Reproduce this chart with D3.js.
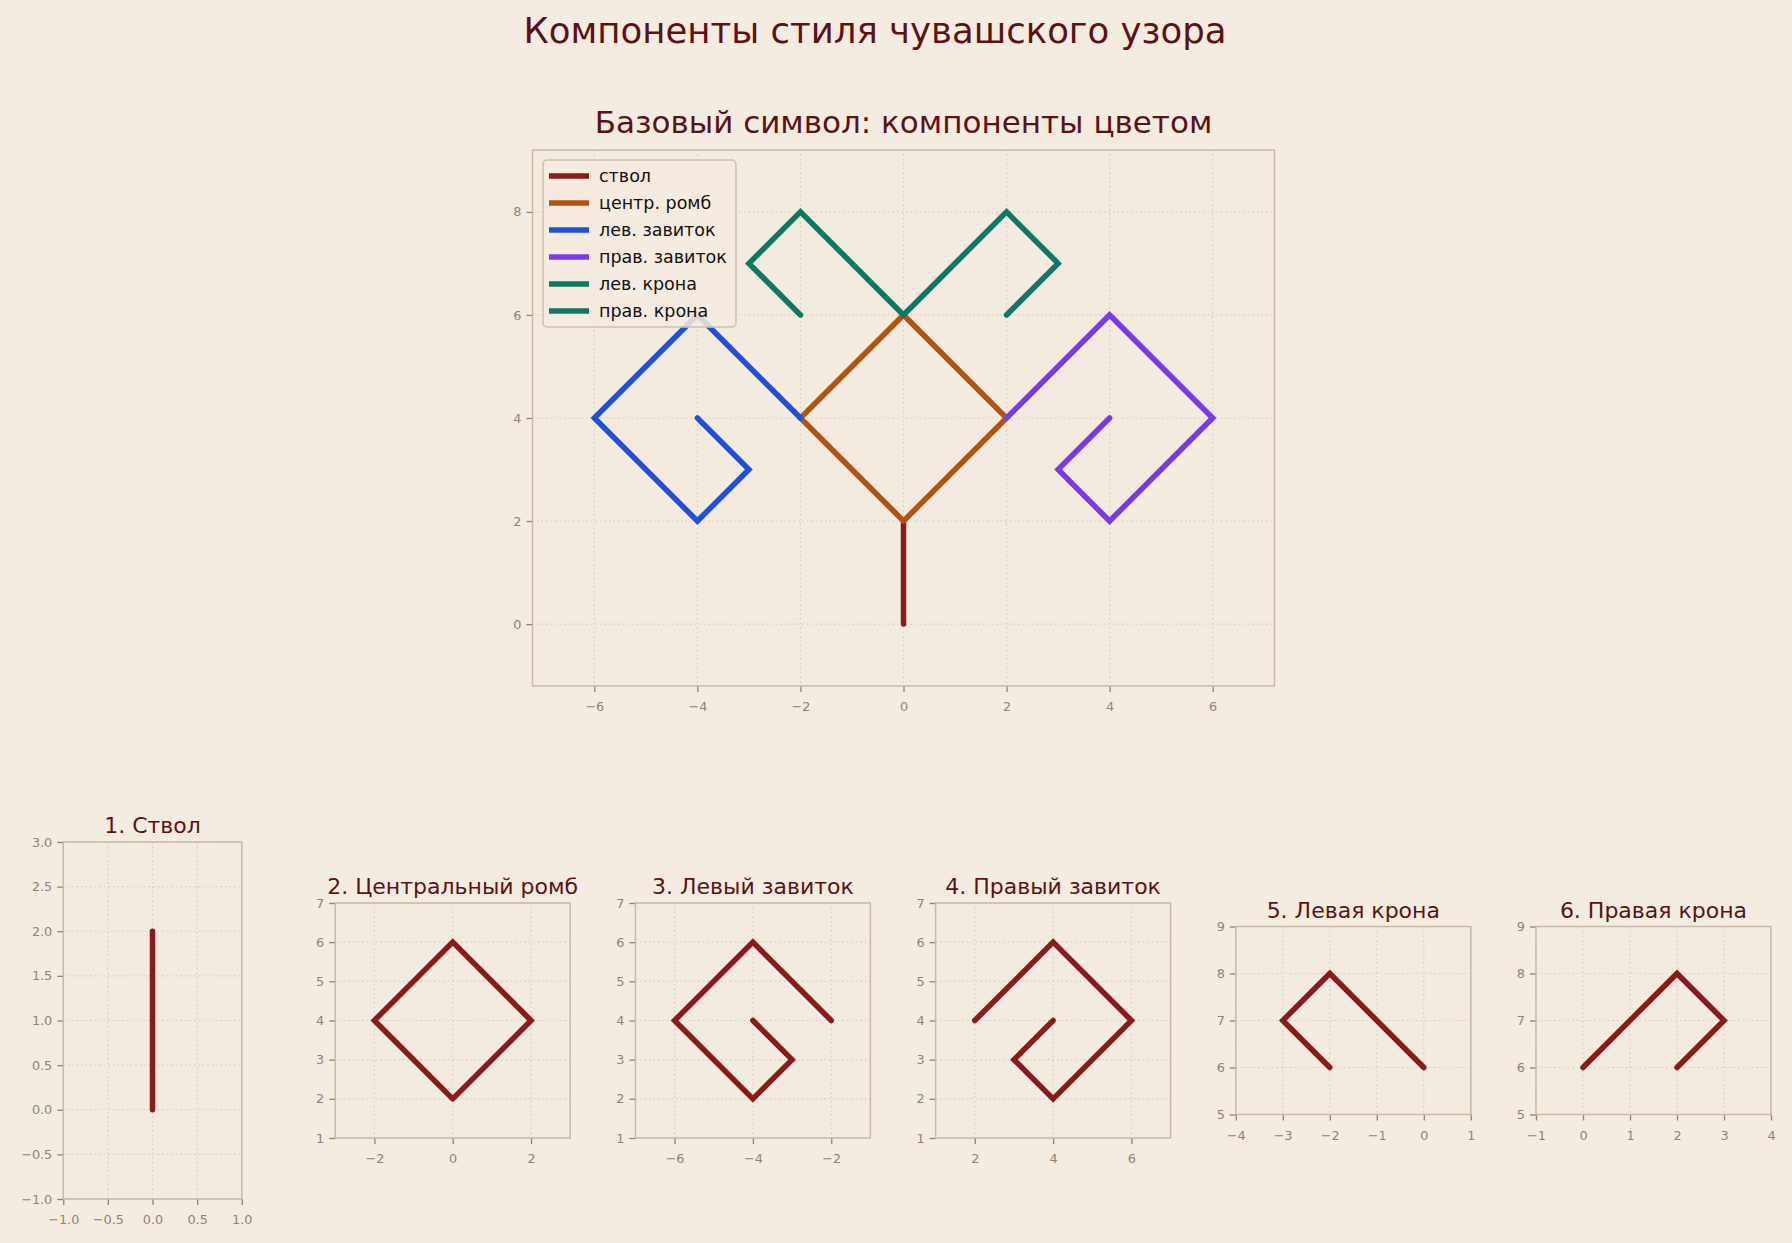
<!DOCTYPE html>
<html>
<head>
<meta charset="utf-8">
<script src="https://cdn.jsdelivr.net/npm/d3@7"></script>
<style>
  body { margin: 0; background: #f4ece1; }
  svg { display: block; font-family: "DejaVu Sans", sans-serif; }
  .tick text { fill: #8c8279; }
  .tick line { stroke: #8c8279; }
</style>
</head>
<body>
<svg id="chart"></svg>
<script>
const width = 1792;
const height = 1243;

// component outlines
const trunkX = [0, 0];
const trunkY = [0, 2];
const rhombX = [0, 2, 0, -2, 0];
const rhombY = [2, 4, 6, 4, 2];
const leftCurlX = [-2, -4, -6, -4, -3, -4];
const leftCurlY = [4, 6, 4, 2, 3, 4];
const rightCurlX = [2, 4, 6, 4, 3, 4];
const rightCurlY = [4, 6, 4, 2, 3, 4];
const leftCrownX = [0, -2, -3, -2];
const leftCrownY = [6, 8, 7, 6];
const rightCrownX = [0, 2, 3, 2];
const rightCrownY = [6, 8, 7, 6];

const legendNames = ["ствол", "центр. ромб", "лев. завиток", "прав. завиток", "лев. крона", "прав. крона"];
const colors = ["#8b1a1a", "#b4530f", "#2150d8", "#7a3be6", "#0b7a5c", "#137568"];
const smallTitles = ["1. Ствол", "2. Центральный ромб", "3. Левый завиток", "4. Правый завиток", "5. Левая крона", "6. Правая крона"];

const mainTicksX = [-6, -4, -2, 0, 2, 4, 6];
const mainTicksY = [0, 2, 4, 6, 8];
const smallXDomains = [[-1, 1], [-3, 3], [-7, -1], [1, 7], [-4, 1], [-1, 4]];
const smallYDomains = [[-1, 3], [1, 7], [1, 7], [1, 7], [5, 9], [5, 9]];
const smallTicksX = [
  [-1, -0.5, 0, 0.5, 1], [-2, 0, 2], [-6, -4, -2], [2, 4, 6], [-4, -3, -2, -1, 0, 1], [-1, 0, 1, 2, 3, 4]
];
const smallTicksY = [
  [-1, -0.5, 0, 0.5, 1, 1.5, 2, 2.5, 3], [1, 2, 3, 4, 5, 6, 7], [1, 2, 3, 4, 5, 6, 7],
  [1, 2, 3, 4, 5, 6, 7], [5, 6, 7, 8, 9], [5, 6, 7, 8, 9]
];

const parts = [
  [trunkX, trunkY], [rhombX, rhombY], [leftCurlX, leftCurlY],
  [rightCurlX, rightCurlY], [leftCrownX, leftCrownY], [rightCrownX, rightCrownY]
];
const toPoints = (xs, ys) => xs.map((x, i) => [x, ys[i]]);

const svg = d3.select("#chart").attr("width", width).attr("height", height);
svg.append("rect").attr("width", width).attr("height", height).attr("fill", "#f4ece1");

svg.append("text")
  .text("Компоненты стиля чувашского узора")
  .attr("x", width / 2 - 21)
  .attr("y", 43)
  .attr("text-anchor", "middle")
  .attr("font-size", 35.5)
  .attr("fill", "#5c1215");

// equal-aspect panel fitted into a box
function panel(box, xDom, yDom, xTicks, yTicks, fmt) {
  const ux = xDom[1] - xDom[0], uy = yDom[1] - yDom[0];
  const k = Math.min(box.w / ux, box.h / uy);
  const w = ux * k, h = uy * k;
  const x0 = box.cx - w / 2, y0 = box.cy - h / 2;
  const xScale = d3.scaleLinear().domain(xDom).range([x0, x0 + w]);
  const yScale = d3.scaleLinear().domain(yDom).range([y0 + h, y0]);
  const g = svg.append("g");

  g.append("rect").attr("x", x0).attr("y", y0).attr("width", w).attr("height", h).attr("fill", "#f4ebe0");

  // grid
  g.append("g").selectAll("line").data(xTicks).enter().append("line")
    .attr("x1", (d) => xScale(d)).attr("x2", (d) => xScale(d))
    .attr("y1", y0).attr("y2", y0 + h);
  g.append("g").selectAll("line").data(yTicks).enter().append("line")
    .attr("y1", (d) => yScale(d)).attr("y2", (d) => yScale(d))
    .attr("x1", x0).attr("x2", x0 + w);
  g.selectAll("g line")
    .attr("stroke", "#d8ccbd").attr("stroke-width", 1.2).attr("stroke-dasharray", "1.5,3");

  const xAxis = d3.axisBottom(xScale).tickValues(xTicks).tickSize(6).tickPadding(10).tickFormat(d3.format(fmt));
  const yAxis = d3.axisLeft(yScale).tickValues(yTicks).tickSize(6).tickPadding(5).tickFormat(d3.format(fmt));
  const ax = g.append("g").attr("transform", "translate(0," + (y0 + h) + ")").call(xAxis);
  const ay = g.append("g").attr("transform", "translate(" + x0 + ",0)").call(yAxis);
  [ax, ay].forEach((a) => {
    a.select(".domain").remove();
    a.selectAll(".tick line").attr("stroke-width", 1.3);
    a.selectAll(".tick text").attr("font-size", 12.8).attr("font-family", "DejaVu Sans");
  });

  g.append("rect").attr("x", x0).attr("y", y0).attr("width", w).attr("height", h)
    .attr("fill", "none").attr("stroke", "#c9b9a6").attr("stroke-width", 1.5);

  return { g, xScale, yScale, x0, y0, w, h };
}

const line = (p) => d3.line().x((d) => p.xScale(d[0])).y((d) => p.yScale(d[1]));

// main panel
const main = panel({ cx: 903.5, cy: 418, w: 742, h: 536 }, [-7.2, 7.2], [-1.2, 9.2], mainTicksX, mainTicksY, "d");
main.g.append("text")
  .text("Базовый символ: компоненты цветом")
  .attr("x", main.x0 + main.w / 2).attr("y", main.y0 - 17)
  .attr("text-anchor", "middle").attr("font-size", 31).attr("fill", "#5c1215");

parts.forEach(([xs, ys], i) => {
  main.g.append("path")
    .attr("d", line(main)(toPoints(xs, ys)))
    .attr("fill", "none").attr("stroke", colors[i]).attr("stroke-width", 5.5)
    .attr("stroke-linecap", "round").attr("stroke-linejoin", "miter");
});

// legend
const leg = main.g.append("g");
leg.append("rect").attr("x", 543).attr("y", 160).attr("width", 193).attr("height", 167).attr("rx", 4)
  .attr("fill", "#f4ebe0").attr("fill-opacity", 0.85).attr("stroke", "#cfc1b0").attr("stroke-width", 1.5);
legendNames.forEach((name, i) => {
  const y = 176 + i * 27;
  leg.append("line").attr("x1", 549).attr("x2", 589).attr("y1", y).attr("y2", y)
    .attr("stroke", colors[i]).attr("stroke-width", 5.5);
  leg.append("text").text(name).attr("x", 599).attr("y", y + 6)
    .attr("font-size", 17.5).attr("fill", "#111");
});

// component panels
smallTitles.forEach((t, i) => {
  const p = panel({ cx: 152.5 + i * 300.2, cy: 1020.5, w: 235, h: 357 },
    smallXDomains[i], smallYDomains[i], smallTicksX[i], smallTicksY[i], i === 0 ? ".1f" : "d");
  p.g.append("text").text(t)
    .attr("x", p.x0 + p.w / 2).attr("y", p.y0 - 9)
    .attr("text-anchor", "middle").attr("font-size", 22).attr("fill", "#5c1215");
  const [xs, ys] = parts[i];
  p.g.append("path")
    .attr("d", line(p)(toPoints(xs, ys)))
    .attr("fill", "none").attr("stroke", "#8b1a1a").attr("stroke-width", 5.5)
    .attr("stroke-linecap", "round").attr("stroke-linejoin", "miter");
});
</script>
</body>
</html>
